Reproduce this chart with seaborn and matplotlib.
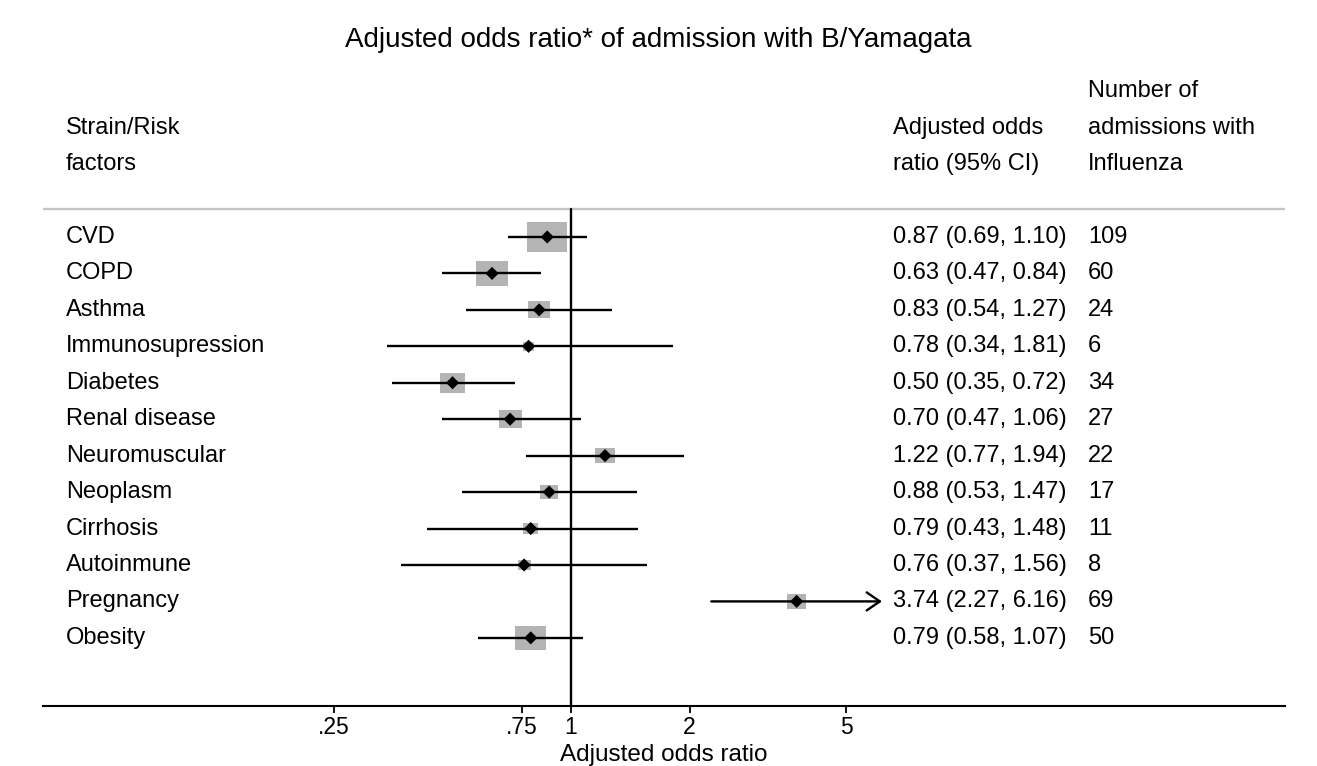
import numpy as np
import pandas as pd
import matplotlib
matplotlib.use("Agg")
import matplotlib.pyplot as plt
import matplotlib.transforms as mtransforms
from matplotlib.path import Path
import seaborn as sns

# ---- data ----
factors = ["CVD", "COPD", "Asthma", "Immunosupression", "Diabetes", "Renal disease",
           "Neuromuscular", "Neoplasm", "Cirrhosis", "Autoinmune", "Pregnancy", "Obesity"]
odds_ratio = [0.87, 0.63, 0.83, 0.78, 0.50, 0.70, 1.22, 0.88, 0.79, 0.76, 3.74, 0.79]
ci_low = [0.69, 0.47, 0.54, 0.34, 0.35, 0.47, 0.77, 0.53, 0.43, 0.37, 2.27, 0.58]
ci_high = [1.10, 0.84, 1.27, 1.81, 0.72, 1.06, 1.94, 1.47, 1.48, 1.56, 6.16, 1.07]
n_admissions = [109, 60, 24, 6, 34, 27, 22, 17, 11, 8, 69, 50]
tick_values = [0.25, 0.75, 1, 2, 5]
tick_labels = [".25", ".75", "1", "2", "5"]

df = pd.DataFrame({"factor": factors, "or": odds_ratio, "lo": ci_low,
                   "hi": ci_high, "n": n_admissions})
df["row"] = np.arange(len(df))
se = (np.log(df["hi"]) - np.log(df["lo"])) / (2 * 1.96)
df["weight"] = 1.0 / se ** 2

sns.set_style("white")
plt.rcParams["font.family"] = ["Liberation Sans", "DejaVu Sans"]
plt.rcParams["text.color"] = "black"
plt.rcParams["xtick.color"] = "black"
plt.rcParams["xtick.labelcolor"] = "black"

fig = plt.figure(figsize=(13.17, 7.66), dpi=100)
ax = fig.add_axes([43 / 1317, 60 / 766, 1242 / 1317, 646 / 766])

x_min, x_max = np.exp(-3.088), np.exp(4.175)
ax.set_xscale("log")
ax.set_xlim(x_min, x_max)
y_bottom = 12.87
ax.set_ylim(y_bottom, -4.856)

# grey separator line & reference line at 1
ax.axhline(-0.77, color="#c4c4c4", lw=1.7, zorder=1)
ax.plot([1, 1], [-0.77, y_bottom], color="black", lw=1.7, zorder=2, clip_on=False)

# boxes (rectangular marker, area ~ weight)
rect = Path([(-1.3, -1), (1.3, -1), (1.3, 1), (-1.3, 1), (-1.3, -1)],
            [Path.MOVETO, Path.LINETO, Path.LINETO, Path.LINETO, Path.CLOSEPOLY])
sns.scatterplot(data=df, x="or", y="row", marker=rect, s=df["weight"] * 11.8,
                color="#b4b4b4", edgecolor="none", linewidth=0, ax=ax, zorder=3,
                legend=False)

# confidence intervals
arrow_limit = max(tick_values)
for _, r in df.iterrows():
    if r["hi"] > arrow_limit:
        ax.annotate("", xy=(r["hi"], r["row"]), xytext=(r["lo"], r["row"]),
                    arrowprops=dict(arrowstyle="->,head_length=0.95,head_width=0.65",
                                    color="black", lw=1.7, shrinkA=0, shrinkB=0),
                    zorder=4)
    else:
        ax.plot([r["lo"], r["hi"]], [r["row"], r["row"]], color="black",
                lw=1.7, zorder=4, solid_capstyle="butt")

# point estimates
sns.scatterplot(data=df, x="or", y="row", marker="D", s=45, color="black",
                edgecolor="none", linewidth=0, ax=ax, zorder=5, legend=False)

# text columns
trans = mtransforms.blended_transform_factory(ax.transAxes, ax.transData)
col1, col2, col3 = 23 / 1242, 850 / 1242, 1045 / 1242
fs = 17
for _, r in df.iterrows():
    ax.text(col1, r["row"], r["factor"], transform=trans, va="center", ha="left", fontsize=fs)
    ax.text(col2, r["row"], f"{r['or']:.2f} ({r['lo']:.2f}, {r['hi']:.2f})",
            transform=trans, va="center", ha="left", fontsize=fs)
    ax.text(col3, r["row"], f"{int(r['n'])}", transform=trans, va="center", ha="left", fontsize=fs)

headers = [(col1, -3, "Strain/Risk"), (col1, -2, "factors"),
           (col2, -3, "Adjusted odds"), (col2, -2, "ratio (95% CI)"),
           (col3, -4, "Number of"), (col3, -3, "admissions with"), (col3, -2, "Influenza")]
for x, y, t in headers:
    ax.text(x, y, t, transform=trans, va="center", ha="left", fontsize=fs)

# axes styling
for s in ["left", "right", "top"]:
    ax.spines[s].set_visible(False)
ax.spines["bottom"].set_linewidth(1.5)
ax.spines["bottom"].set_color("black")
ax.set_yticks([])
ax.set_ylabel("")
ax.set_xticks(tick_values)
ax.set_xticklabels(tick_labels)
ax.xaxis.set_minor_locator(matplotlib.ticker.NullLocator())
ax.tick_params(axis="x", which="major", direction="out", length=5, width=1.3,
               color="black", labelsize=16.5, pad=2, bottom=True)
ax.set_xlabel("")
fig.text((43 + 621) / 1317, 0, "Adjusted odds ratio", ha="center", va="bottom",
         fontsize=17.5)

fig.text(0.5, 1 - 40 / 766, "Adjusted odds ratio* of admission with B/Yamagata",
         ha="center", va="center", fontsize=20)

fig.savefig("out.png", dpi=100)
